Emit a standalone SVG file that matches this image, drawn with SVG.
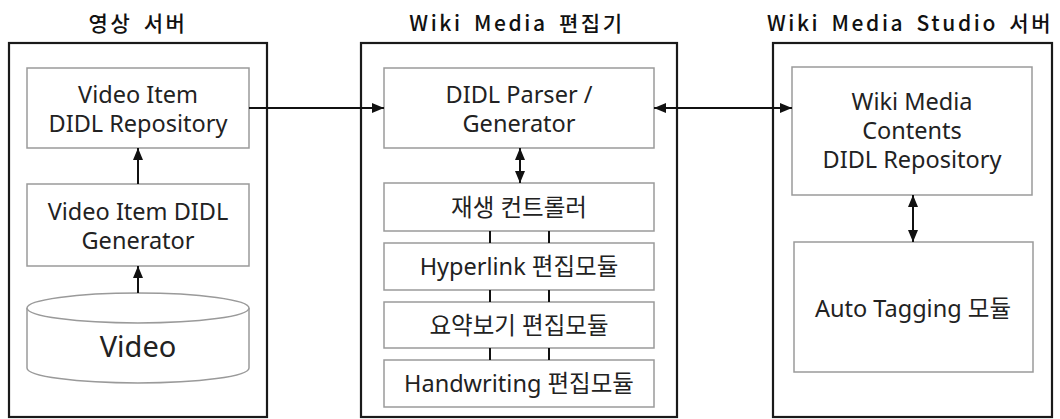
<svg xmlns="http://www.w3.org/2000/svg" width="1060" height="419" viewBox="0 0 1060 419">
  <style>
    .outer { fill: #fff; stroke: #1a1a1a; stroke-width: 2.2; }
    .inner { fill: #fff; stroke: #9a9a9a; stroke-width: 1.5; }
    .title { font-family: "Noto Sans CJK KR", "Noto Sans", sans-serif; font-size: 21px; font-weight: 500; fill: #111; text-anchor: middle; letter-spacing: 2.6px; word-spacing: 4px; }
    .label { font-family: "Noto Sans", "Noto Sans CJK KR", sans-serif; font-size: 23.5px; fill: #222; text-anchor: middle; }
    .big { font-size: 29px; }
    .conn { fill: none; stroke: #111; stroke-width: 2; }
  </style>
  <defs>
    <marker id="arrowEnd" viewBox="0 0 12 10" refX="12" refY="5" markerWidth="12" markerHeight="10" markerUnits="userSpaceOnUse" orient="auto">
      <path d="M0,0 L12,5 L0,10 Z" fill="#111"/>
    </marker>
    <marker id="arrowStart" viewBox="0 0 12 10" refX="0" refY="5" markerWidth="12" markerHeight="10" markerUnits="userSpaceOnUse" orient="auto">
      <path d="M12,0 L0,5 L12,10 Z" fill="#111"/>
    </marker>
  </defs>

  <!-- titles -->
  <text class="title" x="138" y="31" font-weight="700">영상 서버</text>
  <text class="title" x="517" y="31">Wiki Media 편집기</text>
  <text class="title" x="910" y="31">Wiki Media Studio 서버</text>

  <!-- container frames -->
  <g id="video-server">
    <rect class="outer" x="9" y="43" width="258" height="374"/>
  </g>
  <g id="wiki-editor">
    <rect class="outer" x="361" y="43" width="316" height="374"/>
  </g>
  <g id="studio-server">
    <rect class="outer" x="773" y="43" width="279" height="374"/>
  </g>

  <!-- video server components -->
  <g id="video-item-repo">
    <rect class="inner" x="27" y="68" width="222" height="80"/>
    <text class="label" x="138" y="103">Video Item</text>
    <text class="label" x="138" y="132">DIDL Repository</text>
  </g>
  <g id="video-item-generator">
    <rect class="inner" x="27" y="184" width="222" height="82"/>
    <text class="label" x="138" y="220">Video Item DIDL</text>
    <text class="label" x="138" y="249">Generator</text>
  </g>
  <g id="video-db">
    <path class="inner" d="M27,308 L27,368 A111,15 0 0 0 249,368 L249,308"/>
    <ellipse class="inner" cx="138" cy="308" rx="111" ry="15"/>
    <text class="label big" x="138" y="357">Video</text>
  </g>

  <!-- editor components -->
  <g id="didl-parser">
    <rect class="inner" x="384" y="68" width="270" height="80"/>
    <text class="label" x="519" y="103">DIDL Parser /</text>
    <text class="label" x="519" y="132">Generator</text>
  </g>
  <g id="playback-controller">
    <rect class="inner" x="384" y="183" width="270" height="48"/>
    <text class="label" x="519" y="216">재생 컨트롤러</text>
  </g>
  <g id="hyperlink-editor">
    <rect class="inner" x="384" y="243" width="270" height="47"/>
    <text class="label" x="519" y="275">Hyperlink 편집모듈</text>
  </g>
  <g id="summary-editor">
    <rect class="inner" x="384" y="302" width="270" height="46"/>
    <text class="label" x="519" y="334">요약보기 편집모듈</text>
  </g>
  <g id="handwriting-editor">
    <rect class="inner" x="384" y="360" width="270" height="47"/>
    <text class="label" x="519" y="392">Handwriting 편집모듈</text>
  </g>

  <!-- studio server components -->
  <g id="contents-repo">
    <rect class="inner" x="792" y="67" width="240" height="128"/>
    <text class="label" x="912" y="110">Wiki Media</text>
    <text class="label" x="912" y="139">Contents</text>
    <text class="label" x="912" y="168">DIDL Repository</text>
  </g>
  <g id="auto-tagging">
    <rect class="inner" x="794" y="242" width="239" height="130"/>
    <text class="label" x="913" y="317">Auto Tagging 모듈</text>
  </g>

  <!-- connectors -->
  <g id="connectors">
    <line class="conn" x1="138" y1="184" x2="138" y2="148" marker-end="url(#arrowEnd)"/>
    <line class="conn" x1="138" y1="293" x2="138" y2="266" marker-end="url(#arrowEnd)"/>
    <line class="conn" x1="249" y1="108" x2="384" y2="108" marker-end="url(#arrowEnd)"/>
    <line class="conn" x1="654" y1="108" x2="792" y2="108" marker-start="url(#arrowStart)" marker-end="url(#arrowEnd)"/>
    <line class="conn" x1="520" y1="148" x2="520" y2="183" marker-start="url(#arrowStart)" marker-end="url(#arrowEnd)"/>
    <line class="conn" x1="913" y1="195" x2="913" y2="242" marker-start="url(#arrowStart)" marker-end="url(#arrowEnd)"/>
    <line class="conn" x1="490" y1="231" x2="490" y2="243"/>
    <line class="conn" x1="549" y1="231" x2="549" y2="243"/>
    <line class="conn" x1="490" y1="290" x2="490" y2="302"/>
    <line class="conn" x1="549" y1="290" x2="549" y2="302"/>
    <line class="conn" x1="490" y1="348" x2="490" y2="360"/>
    <line class="conn" x1="549" y1="348" x2="549" y2="360"/>
  </g>
</svg>
